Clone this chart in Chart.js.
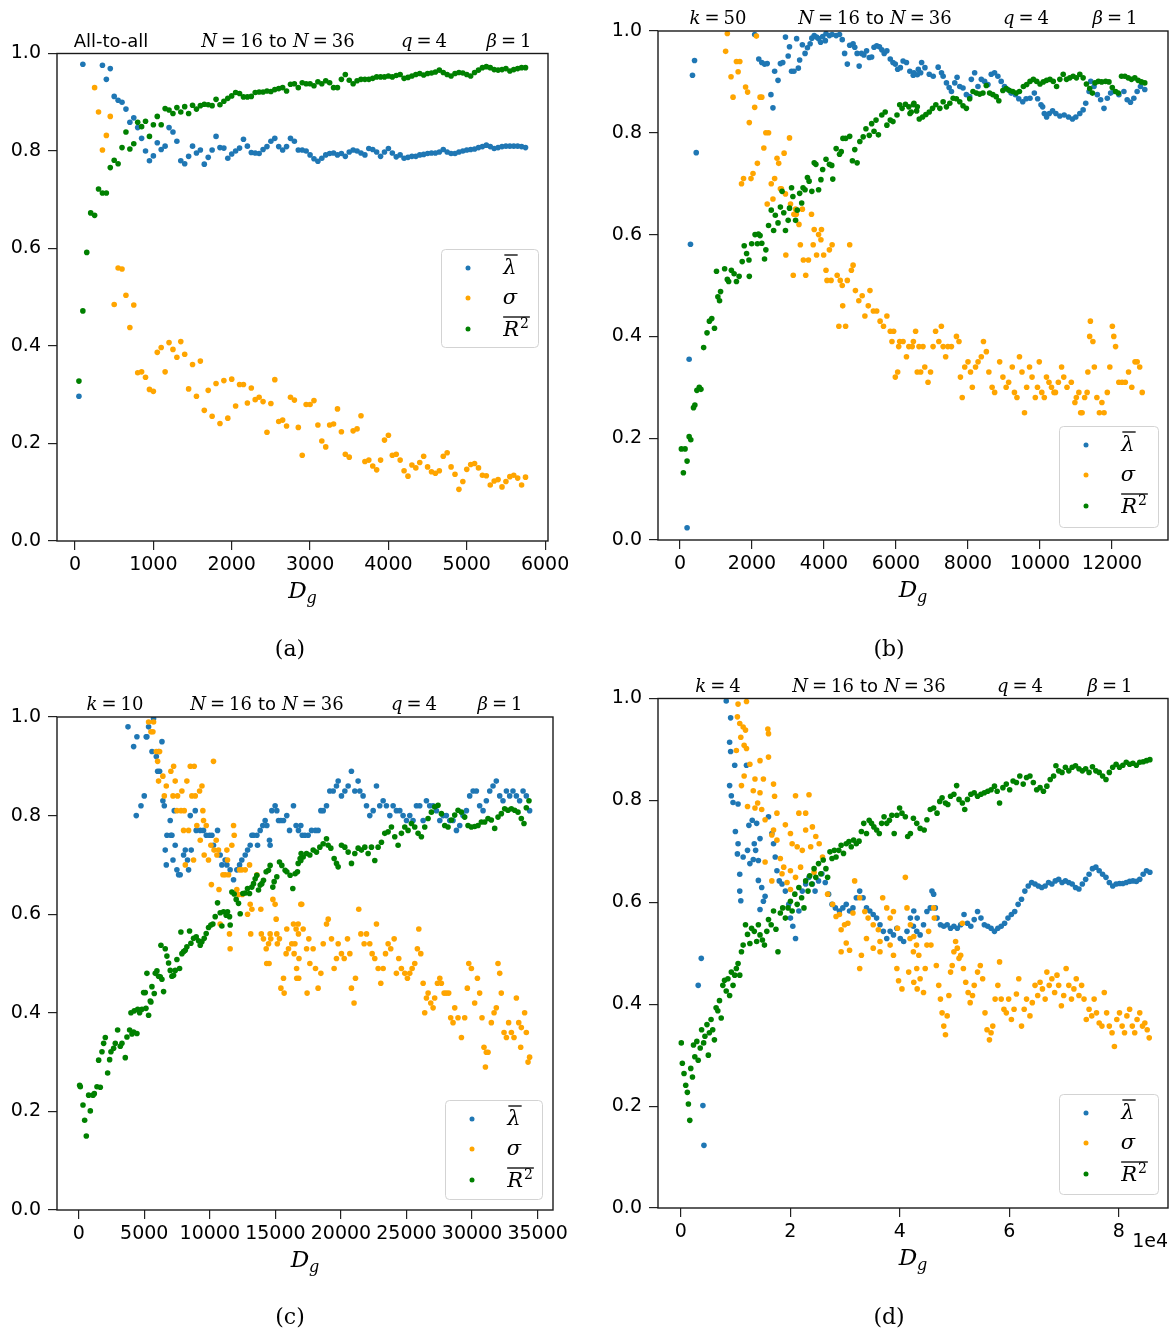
<!DOCTYPE html>
<html><head><meta charset="utf-8">
<script src="https://cdn.jsdelivr.net/npm/chart.js@4.4.1/dist/chart.umd.min.js"></script>
<style>
html,body{margin:0;padding:0;background:#fff;}
#wrap{position:relative;width:1176px;height:1333px;background:#fff;}
canvas{position:absolute;}
</style></head><body><div id="wrap">
<canvas id="cA" width="588" height="666" style="left:0;top:0;width:588px;height:666px"></canvas>
<canvas id="cB" width="588" height="666" style="left:588px;top:0;width:588px;height:666px"></canvas>
<canvas id="cC" width="588" height="667" style="left:0;top:666px;width:588px;height:667px"></canvas>
<canvas id="cD" width="588" height="667" style="left:588px;top:666px;width:588px;height:667px"></canvas>
</div>
<script>
// ---------------- DATA ----------------
const yTicks = [0, 0.2, 0.4, 0.6, 0.8, 1.0];
const xTicksA = [0,1000,2000,3000,4000,5000,6000];
const xTicksB = [0,2000,4000,6000,8000,10000,12000];
const xTicksC = [0,5000,10000,15000,20000,25000,30000,35000];
const xTicksD = [0,20000,40000,60000,80000];
const seriesNames = ['lambda','sigma','R2'];

// (a) All-to-all
const xA = [50,100,150,200,250,300,350,400,450,500,550,600,650,700,750,800,850,900,950,1000,1050,1100,1150,1200,1250,1300,1350,1400,1450,1500,1550,1600,1650,1700,1750,1800,1850,1900,1950,2000,2050,2100,2150,2200,2250,2300,2350,2400,2450,2500,2550,2600,2650,2700,2750,2800,2850,2900,2950,3000,3050,3100,3150,3200,3250,3300,3350,3400,3450,3500,3550,3600,3650,3700,3750,3800,3850,3900,3950,4000,4050,4100,4150,4200,4250,4300,4350,4400,4450,4500,4550,4600,4650,4700,4750,4800,4850,4900,4950,5000,5050,5100,5150,5200,5250,5300,5350,5400,5450,5500,5550,5600,5650,5700,5750];
const lamA = [.297,.978,null,null,null,null,.976,.947,.969,.912,
.904,.900,.886,.859,.868,.848,.826,.800,.780,.790,
.817,.803,.810,.848,.839,.820,.780,.774,.789,.810,
.796,.802,.773,.787,.802,.830,.807,.806,.785,.794,
.800,.806,.824,.810,.797,.796,.795,.803,.809,.820,
.826,.809,.802,.809,.826,.820,.802,.802,.800,.792,
.784,.779,.785,.792,.795,.796,.792,.795,.789,.798,
.802,.800,.796,.792,.805,.803,.798,.789,.798,.805,
.796,.788,.792,.785,.787,.789,.789,.792,.793,.795,
.796,.796,.798,.803,.798,.795,.795,.798,.800,.802,
.803,.804,.807,.809,.812,.809,.805,.807,.809,.810,
.810,.810,.810,.809,.807];
const sigA = [null,null,null,null,.930,.880,.802,.832,.871,.485,
.560,.558,.504,.438,.484,.345,.347,.336,.311,.307,
.387,.397,.347,.407,.393,.377,.409,.383,.312,.362,
.297,.369,.268,.309,.256,.323,.241,.329,.252,.332,
.277,.321,.321,.283,.314,.290,.295,.286,.223,.282,
.331,.245,.248,.236,.295,.289,.233,.176,.280,.280,
.288,.238,.205,.193,.238,.240,.271,.224,.178,.172,
.226,.230,.257,.163,.166,.154,.146,.166,.207,.217,
.176,.178,.166,.144,.133,.156,.150,.161,.174,.152,
.142,.139,.144,.174,.181,.152,.137,.106,.122,.147,
.157,.159,.150,.135,.134,.115,.123,.126,.111,.122,
.132,.135,.129,.115,.131];
const r2A = [.328,.472,.592,.673,.668,.722,.714,.714,.766,.781,
.774,.807,.839,.804,.815,.859,.850,.861,.830,.854,
.871,.854,.887,.884,.877,.889,.880,.891,.877,.894,
.886,.893,.896,.895,.893,.906,.895,.902,.908,.913,
.920,.918,.911,.911,.912,.920,.921,.921,.923,.922,
.926,.928,.930,.923,.937,.938,.930,.940,.938,.938,
.934,.942,.938,.944,.940,.930,.930,.947,.957,.945,
.938,.944,.947,.947,.947,.949,.952,.952,.952,.954,
.952,.955,.957,.949,.951,.954,.957,.959,.956,.959,
.960,.962,.966,.961,.957,.954,.959,.961,.960,.957,
.954,.961,.966,.971,.973,.971,.967,.966,.967,.969,
.964,.967,.969,.971,.971];

// (b) k = 50   [D_g, value]
const lamB = [[197,.024],[254,.355],[291,.581],[347,.913],[404,.942],[451,.761],[2075,.993],[2188,.945],[2272,.938],[2348,.935],[2423,.936],[2526,.875],[2582,.849],[2629,.921],[2723,.903],[2789,.936],[2855,.938],[2930,.988],[3005,.951],[3042,.969],[3099,.921],[3164,.921],[3240,.985],[3287,.927],[3324,.943],[3399,.973],[3474,.956],[3540,.967],[3615,.975],[3662,.986],[3728,.991],[3794,.988],[3850,.985],[3906,.978],[3963,.989],[4038,.981],[4056,.995],[4150,.991],[4226,.993],[4338,.991],[4432,.993],[4507,.983],[4573,.956],[4648,.935],[4714,.972],[4808,.975],[4855,.968],[4920,.956],[4977,.931],[5042,.956],[5108,.953],[5183,.961],[5258,.948],[5324,.949],[5390,.968],[5465,.971],[5540,.969],[5606,.963],[5672,.956],[5747,.961],[5841,.945],[5916,.938],[5981,.935],[6047,.925],[6122,.928],[6197,.941],[6291,.938],[6385,.921],[6479,.913],[6592,.914],[6686,.918],[6500,.918],[6620,.925],[6712,.938],[6804,.928],[6924,.915],[7034,.911],[7172,.929],[7264,.918],[7310,.911],[7402,.898],[7476,.889],[7541,.881],[7633,.898],[7697,.909],[7771,.891],[7862,.888],[7955,.875],[8047,.871],[8093,.905],[8185,.918],[8277,.891],[8370,.905],[8462,.901],[8554,.895],[8646,.915],[8738,.918],[8830,.911],[8922,.901],[9014,.891],[9106,.885],[9199,.878],[9318,.875],[9410,.867],[9521,.861],[9614,.867],[9723,.868],[9843,.878],[9935,.867],[10028,.855],[10074,.851],[10120,.838],[10184,.831],[10258,.838],[10350,.843],[10442,.838],[10552,.833],[10672,.835],[10792,.831],[10903,.827],[10995,.831],[11106,.838],[11198,.845],[11271,.858],[11364,.881],[11410,.901],[11501,.891],[11593,.875],[11685,.865],[11778,.848],[11870,.868],[11962,.878],[12054,.881],[12193,.875],[12331,.881],[12422,.865],[12514,.860],[12607,.868],[12699,.881],[12791,.891],[12911,.885]];
const sigB = [[1268,.96],[1315,.995],[1418,.91],[1474,.87],[1568,.94],[1615,.92],[1662,.94],[1709,.70],[1765,.71],[1822,.89],[1878,.88],[1925,.82],[1972,.71],[2028,.72],[2075,.85],[2122,.99],[2150,.74],[2225,.87],[2272,.87],[2329,.77],[2385,.80],[2423,.66],[2460,.80],[2535,.70],[2582,.67],[2629,.71],[2695,.75],[2742,.74],[2789,.69],[2817,.69],[2892,.76],[2930,.68],[2940,.56],[3042,.79],[3070,.66],[3146,.52],[3164,.64],[3211,.65],[3230,.64],[3305,.62],[3343,.58],[3399,.65],[3427,.55],[3493,.52],[3568,.55],[3653,.64],[3700,.58],[3728,.61],[3794,.56],[3850,.60],[3915,.59],[3930,.61],[3991,.56],[4056,.53],[4084,.51],[4150,.57],[4197,.51],[4226,.58],[4366,.52],[4413,.42],[4451,.51],[4507,.50],[4520,.46],[4601,.42],[4648,.51],[4714,.58],[4761,.53],[4808,.54],[4873,.49],[4967,.47],[5061,.48],[5136,.44],[5230,.46],[5277,.49],[5371,.45],[5465,.45],[5559,.43],[5653,.42],[5747,.44],[5841,.41],[5888,.39],[5935,.41],[5981,.32],[6047,.33],[6075,.38],[6103,.39],[6197,.39],[6291,.36],[6357,.38],[6451,.38],[6483,.39],[6545,.41],[6590,.33],[6639,.38],[6686,.33],[6750,.38],[6800,.34],[6890,.31],[6960,.33],[7030,.38],[7100,.41],[7190,.39],[7260,.42],[7310,.38],[7380,.36],[7440,.38],[7540,.38],[7680,.40],[7750,.39],[7790,.32],[7840,.28],[7910,.34],[8000,.35],[8070,.33],[8120,.30],[8210,.34],[8280,.35],[8370,.36],[8430,.39],[8510,.37],[8580,.33],[8670,.30],[8740,.29],[8880,.35],[8970,.32],[9060,.30],[9130,.31],[9230,.34],[9290,.29],[9360,.28],[9430,.36],[9500,.33],[9570,.25],[9630,.30],[9710,.34],[9780,.32],[9870,.28],[9930,.30],[9980,.35],[10050,.29],[10120,.28],[10180,.32],[10250,.31],[10320,.30],[10390,.29],[10430,.29],[10510,.31],[10600,.34],[10660,.32],[10750,.30],[10870,.31],[10970,.27],[11010,.28],[11080,.29],[11130,.25],[11170,.25],[11240,.28],[11310,.29],[11330,.33],[11380,.40],[11400,.43],[11470,.39],[11510,.34],[11580,.28],[11650,.25],[11720,.27],[11780,.25],[11870,.29],[11940,.34],[12010,.42],[12050,.40],[12100,.38],[12190,.31],[12280,.31],[12370,.31],[12460,.33],[12550,.30],[12640,.35],[12700,.35],[12770,.34],[12840,.29]];
const r2B = [[38,.179],[94,.132],[141,.179],[197,.155],[254,.203],[300,.197],[375,.260],[413,.265],[469,.294],[535,.300],[582,.296],[657,.378],[751,.407],[817,.430],[883,.435],[958,.416],[1014,.528],[1052,.478],[1099,.470],[1127,.488],[1240,.533],[1315,.512],[1352,.508],[1427,.530],[1503,.523],[1568,.508],[1643,.518],[1728,.547],[1784,.578],[1850,.563],[1916,.550],[1925,.518],[1991,.582],[2085,.600],[2150,.582],[2178,.601],[2225,.598],[2272,.583],[2348,.552],[2385,.570],[2460,.618],[2535,.648],[2601,.608],[2648,.638],[2723,.623],[2789,.654],[2836,.685],[2883,.643],[2930,.608],[3005,.628],[3042,.652],[3099,.692],[3136,.675],[3211,.628],[3258,.648],[3324,.681],[3380,.662],[3418,.692],[3474,.688],[3540,.712],[3587,.705],[3662,.685],[3728,.741],[3775,.738],[3850,.688],[3915,.708],[3963,.728],[4056,.748],[4150,.738],[4216,.736],[4244,.709],[4338,.769],[4432,.758],[4479,.763],[4526,.789],[4601,.789],[4714,.793],[4789,.745],[4855,.767],[4920,.741],[4995,.783],[5089,.792],[5165,.808],[5258,.795],[5324,.818],[5390,.803],[5446,.825],[5512,.796],[5606,.835],[5700,.841],[5747,.815],[5841,.825],[5916,.822],[6028,.835],[6103,.855],[6169,.848],[6263,.856],[6357,.851],[6423,.841],[6498,.858],[6592,.851],[6389,.838],[6481,.855],[6573,.843],[6647,.827],[6739,.831],[6831,.836],[6924,.841],[7015,.848],[7107,.855],[7218,.848],[7310,.861],[7402,.851],[7495,.858],[7587,.868],[7679,.867],[7771,.861],[7862,.853],[7955,.848],[8047,.867],[8139,.881],[8231,.878],[8324,.876],[8416,.878],[8508,.893],[8600,.878],[8691,.875],[8784,.871],[8857,.863],[8968,.883],[9060,.887],[9152,.883],[9245,.881],[9337,.878],[9429,.881],[9539,.891],[9631,.895],[9723,.901],[9816,.905],[9908,.901],[10000,.896],[10092,.900],[10184,.903],[10277,.905],[10369,.901],[10461,.891],[10552,.905],[10645,.915],[10737,.905],[10829,.908],[10921,.911],[11013,.908],[11106,.915],[11198,.908],[11290,.896],[11382,.887],[11456,.878],[11529,.898],[11622,.901],[11714,.900],[11824,.901],[11916,.900],[12008,.889],[12100,.881],[12174,.878],[12265,.911],[12358,.911],[12450,.908],[12541,.905],[12634,.908],[12726,.903],[12817,.900],[12911,.898]];

// (c) k = 10
const lamC = [[3760,.98],[4190,.94],[4390,.80],[4440,.96],[4750,.82],[5000,.84],[5150,.96],[5200,.96],[5330,.98],[5590,.93],[5710,.997],[5920,.92],[6020,.89],[6090,.93],[6170,.89],[6350,.95],[6420,.83],[6530,.82],[6600,.73],[6680,.70],[6730,.76],[6980,.79],[7030,.76],[7110,.76],[7190,.71],[7290,.81],[7360,.74],[7490,.69],[7620,.68],[7740,.68],[8000,.72],[8130,.73],[8300,.71],[8380,.69],[8510,.80],[8580,.73],[8890,.81],[8960,.77],[9270,.77],[9520,.77],[9730,.76],[9980,.76],[10160,.76],[10280,.74],[10590,.77],[10790,.72],[10920,.70],[11170,.71],[11300,.70],[11550,.69],[11810,.67],[12060,.69],[12270,.70],[12440,.71],[12700,.72],[12880,.73],[13080,.74],[13210,.76],[13330,.76],[13590,.76],[13640,.74],[13840,.77],[14040,.78],[14220,.79],[14350,.78],[14550,.75],[14600,.74],[14730,.81],[14980,.82],[15110,.81],[15240,.79],[15420,.79],[15620,.79],[15870,.80],[16080,.77],[16380,.82],[16580,.78],[16760,.77],[16940,.78],[17050,.76],[17250,.76],[17500,.76],[17760,.77],[18060,.77],[18260,.77],[18470,.81],[18650,.81],[18900,.82],[19150,.85],[19410,.85],[19660,.86],[19790,.87],[20040,.84],[20300,.85],[20550,.86],[20800,.89],[21060,.85],[21310,.87],[21440,.85],[21690,.84],[21950,.82],[22200,.80],[22460,.81],[22710,.86],[22960,.82],[23220,.83],[23470,.82],[23730,.80],[23980,.82],[24230,.81],[24490,.81],[24740,.80],[25000,.79],[25250,.80],[25500,.79],[25760,.82],[26010,.82],[26270,.79],[26520,.83],[26770,.82],[27030,.82],[27280,.81],[27540,.79],[27790,.80],[28040,.80],[28300,.79],[28550,.79],[28810,.77],[29060,.78],[29310,.80],[29570,.81],[29820,.84],[30080,.85],[30330,.85],[30580,.82],[30840,.81],[31090,.83],[31350,.85],[31600,.86],[31850,.87],[32110,.84],[32360,.83],[32620,.85],[32870,.84],[33120,.85],[33380,.84],[33630,.83],[33890,.85],[34140,.84],[34390,.81]];
const sigC = [[5330,.99],[5510,.97],[5660,.97],[5710,.99],[5920,.93],[6020,.91],[6090,.87],[6170,.93],[6420,.88],[6530,.84],[6680,.86],[7030,.89],[7190,.84],[7240,.90],[7360,.87],[7490,.81],[7540,.84],[7800,.81],[7870,.85],[8000,.77],[8050,.81],[8130,.70],[8250,.87],[8380,.77],[8510,.90],[8630,.84],[8760,.71],[8810,.90],[8890,.84],[9010,.78],[9220,.85],[9270,.75],[9400,.86],[9470,.81],[9520,.79],[9570,.72],[9730,.78],[9900,.71],[10080,.74],[10120,.66],[10280,.91],[10320,.73],[10490,.75],[10540,.72],[10660,.73],[10700,.65],[10790,.58],[11000,.68],[11170,.68],[11300,.73],[11350,.71],[11430,.68],[11500,.56],[11550,.53],[11680,.74],[11810,.78],[11860,.76],[12060,.65],[12190,.64],[12270,.69],[12440,.69],[12480,.64],[12700,.69],[12880,.60],[13030,.70],[13080,.62],[13120,.56],[13210,.61],[13590,.68],[13890,.61],[13930,.56],[14090,.55],[14300,.53],[14340,.50],[14480,.54],[14520,.50],[14600,.56],[14650,.55],[14810,.63],[14980,.62],[15060,.59],[15110,.56],[15150,.54],[15310,.55],[15420,.45],[15620,.47],[15670,.44],[15820,.52],[15870,.57],[16000,.53],[16250,.54],[16380,.58],[16430,.52],[16490,.54],[16580,.57],[16620,.49],[16630,.47],[16740,.58],[16760,.56],[16780,.47],[16800,.51],[16940,.62],[17010,.62],[17120,.57],[17380,.53],[17420,.44],[17550,.55],[17630,.50],[17880,.53],[18060,.49],[18260,.45],[18470,.48],[18650,.54],[18900,.58],[19030,.59],[19280,.55],[19480,.49],[19660,.51],[19790,.54],[20040,.52],[20250,.51],[20500,.55],[20680,.52],[20800,.45],[21000,.42],[21110,.47],[21360,.61],[21520,.56],[21770,.54],[21950,.56],[22200,.54],[22380,.52],[22580,.51],[22710,.58],[22840,.49],[23040,.46],[23220,.49],[23400,.52],[23600,.54],[23800,.53],[24060,.55],[24230,.48],[24410,.51],[24610,.49],[24870,.48],[25070,.47],[25250,.48],[25430,.49],[25630,.50],[25830,.53],[25940,.57],[26090,.52],[26270,.46],[26390,.40],[26520,.43],[26650,.44],[26850,.42],[27030,.41],[27150,.43],[27360,.46],[27540,.47],[27660,.46],[27870,.44],[28040,.44],[28220,.44],[28370,.39],[28550,.38],[28680,.41],[28930,.39],[29190,.35],[29440,.39],[29640,.45],[29750,.50],[29950,.49],[30200,.42],[30410,.47],[30580,.44],[30760,.39],[30910,.33],[31020,.29],[31090,.32],[31220,.32],[31470,.38],[31680,.40],[31850,.41],[31980,.50],[32110,.48],[32230,.44],[32440,.36],[32620,.35],[32790,.38],[33000,.36],[33200,.35],[33380,.43],[33560,.38],[33710,.33],[33760,.37],[34010,.40],[34140,.36],[34270,.30],[34390,.31]];
const r2C = [[73,.253],[124,.250],[327,.213],[454,.182],[581,.150],[759,.233],[886,.201],[1089,.233],[1191,.236],[1394,.250],[1521,.304],[1648,.249],[1775,.321],[1902,.338],[2029,.350],[2207,.278],[2359,.305],[2461,.321],[2664,.328],[2791,.338],[2969,.365],[3172,.332],[3299,.338],[3553,.309],[3680,.351],[3883,.365],[3985,.400],[4061,.357],[4188,.361],[4239,.404],[4442,.358],[4500,.407],[4645,.400],[4823,.407],[4950,.441],[5077,.441],[5130,.409],[5204,.480],[5331,.395],[5458,.424],[5509,.422],[5585,.453],[5763,.439],[5839,.480],[5966,.485],[6093,.474],[6220,.473],[6271,.537],[6347,.468],[6474,.443],[6601,.530],[6728,.515],[6855,.501],[6982,.486],[7109,.474],[7236,.476],[7363,.486],[7490,.508],[7693,.490],[7795,.564],[7871,.520],[7998,.524],[8125,.527],[8252,.534],[8455,.566],[8557,.541],[8760,.551],[8963,.554],[9141,.546],[9268,.537],[9395,.544],[9573,.551],[9725,.561],[9903,.573],[10081,.578],[10233,.580],[10411,.595],[10589,.623],[10792,.603],[10919,.576],[11046,.605],[11249,.598],[11351,.605],[11503,.595],[11554,.578],[11681,.645],[11859,.641],[12011,.630],[12189,.622],[12316,.601],[12519,.642],[12697,.643],[12875,.652],[13027,.642],[13205,.655],[13332,.662],[13459,.672],[13586,.679],[13713,.649],[13840,.659],[13967,.662],[14094,.669],[14297,.686],[14475,.689],[14602,.699],[14805,.655],[14907,.666],[15110,.676],[15313,.706],[15491,.699],[15745,.689],[15872,.686],[16126,.679],[16329,.652],[16507,.682],[16685,.686],[16888,.713],[16964,.723],[16740,.703],[16943,.709],[17121,.716],[17375,.723],[17629,.720],[17883,.730],[18137,.726],[18391,.736],[18645,.743],[18899,.753],[19026,.740],[19229,.734],[19483,.713],[19661,.703],[19788,.696],[20042,.740],[20296,.736],[20550,.726],[20804,.703],[21058,.723],[21312,.734],[21566,.730],[21820,.736],[22074,.723],[22328,.736],[22582,.709],[22836,.736],[23090,.746],[23344,.764],[23598,.767],[23852,.777],[24106,.757],[24360,.740],[24614,.764],[24868,.777],[25122,.770],[25376,.784],[25630,.777],[25884,.764],[26138,.757],[26392,.777],[26646,.794],[26900,.807],[27154,.818],[27408,.821],[27662,.804],[27916,.780],[28170,.777],[28424,.791],[28678,.801],[28932,.811],[29186,.807],[29440,.797],[29694,.780],[29948,.777],[30202,.778],[30456,.780],[30710,.787],[30964,.787],[31218,.794],[31472,.791],[31726,.774],[31980,.797],[32234,.804],[32488,.814],[32742,.811],[32996,.814],[33250,.811],[33504,.807],[33758,.794],[33961,.784],[34139,.816],[34342,.830]];

// (d) k = 4
const lamD = [[3180,.437],[3740,.490],[4040,.201],[4230,.123],[8300,.995],[8920,.914],[8920,.829],[9100,.962],[9100,.896],[9230,.809],[9540,.796],[9850,.869],[9970,.739],[10340,.695],[10460,.793],[10460,.715],[10770,.655],[10770,.622],[10960,.603],[11390,.689],[12000,.869],[12190,.702],[12440,.751],[12620,.676],[13050,.761],[13240,.684],[13420,.715],[13670,.702],[13860,.755],[14170,.682],[14170,.643],[14470,.725],[14470,.586],[14780,.629],[15090,.602],[15400,.612],[16020,.768],[16630,.735],[16940,.715],[17250,.689],[17560,.662],[17990,.642],[18490,.636],[19100,.622],[19720,.596],[20030,.569],[20460,.553],[20960,.529],[21570,.583],[22190,.622],[22810,.636],[23420,.649],[24040,.636],[24530,.622],[25160,.642],[25770,.656],[26390,.639],[27000,.616],[27620,.596],[28240,.589],[28980,.583],[29600,.589],[30220,.596],[30830,.583],[31450,.589],[32060,.609],[32680,.622],[33300,.609],[33920,.589],[34530,.583],[35150,.576],[35770,.569],[36390,.556],[37000,.543],[37620,.529],[38240,.543],[38850,.536],[39470,.549],[40090,.529],[40710,.523],[41320,.543],[41940,.569],[42560,.583],[43180,.569],[42490,.553],[43100,.543],[43720,.536],[44340,.556],[44960,.582],[45570,.589],[45880,.622],[46190,.616],[46500,.589],[46810,.569],[47430,.556],[48040,.553],[48660,.556],[49280,.549],[49890,.553],[50510,.549],[51130,.556],[51740,.576],[52360,.559],[52980,.553],[53600,.566],[54210,.582],[54830,.569],[55450,.556],[56070,.553],[56680,.549],[57300,.543],[57920,.549],[58530,.553],[59150,.559],[59770,.569],[60390,.576],[61000,.582],[61620,.596],[62240,.606],[62850,.622],[63470,.632],[64090,.639],[64710,.636],[65320,.632],[65940,.629],[66560,.632],[67180,.639],[67790,.636],[68410,.642],[69030,.645],[69650,.639],[70260,.642],[70880,.639],[71500,.636],[72110,.629],[72730,.626],[73350,.636],[73960,.645],[74580,.655],[75200,.666],[75820,.669],[76430,.662],[77050,.655],[77670,.649],[78280,.639],[78900,.632],[79520,.636],[80140,.637],[80750,.637],[81370,.639],[81990,.641],[82600,.642],[83220,.641],[83840,.645],[84460,.655],[85070,.662],[85690,.659]];
const sigD = [[10150,.898],[10340,.964],[10460,.989],[10770,.951],[10960,.924],[11080,.829],[11390,.944],[11570,.908],[11570,.848],[11820,.938],[12000,.994],[12000,.902],[12190,.788],[12620,.871],[13240,.819],[13550,.842],[13550,.785],[14040,.795],[14470,.878],[14470,.815],[14780,.782],[15090,.842],[15400,.762],[15400,.679],[15900,.940],[16020,.931],[16020,.885],[16630,.732],[16630,.642],[16940,.832],[16940,.742],[17130,.808],[17560,.775],[17560,.722],[18180,.686],[18490,.656],[18800,.669],[19100,.752],[19410,.639],[20030,.735],[20030,.662],[20030,.625],[20340,.715],[20960,.809],[20960,.649],[21260,.709],[21570,.775],[21880,.669],[22190,.702],[22810,.775],[22810,.742],[23420,.811],[23730,.709],[24040,.748],[24350,.659],[24660,.729],[25280,.715],[25890,.689],[26820,.616],[27740,.596],[28360,.572],[28980,.576],[29290,.546],[29290,.503],[29910,.556],[30220,.520],[30520,.559],[30830,.506],[31450,.579],[31760,.642],[32680,.609],[32680,.470],[32990,.496],[33610,.582],[33920,.529],[34220,.569],[35150,.556],[35150,.510],[36080,.546],[36390,.523],[36390,.503],[36880,.609],[37620,.589],[38240,.569],[38240,.516],[38850,.582],[38850,.496],[39470,.470],[39590,.549],[39780,.446],[40400,.430],[41020,.649],[41320,.589],[41630,.463],[41940,.556],[42560,.533],[42560,.443],[43060,.516],[43180,.430],[43480,.496],[41870,.529],[42490,.503],[43100,.470],[43720,.450],[44340,.423],[44650,.470],[44960,.516],[45270,.543],[45700,.516],[46190,.589],[46310,.569],[46680,.476],[47120,.437],[47430,.410],[47730,.383],[48040,.357],[48350,.340],[48660,.377],[48970,.417],[49280,.463],[49580,.476],[49890,.503],[50200,.523],[50510,.510],[50820,.490],[51130,.496],[51440,.559],[51620,.470],[52050,.443],[52490,.423],[52860,.403],[53290,.417],[53600,.437],[54210,.463],[54710,.476],[55140,.450],[55570,.383],[55940,.350],[56380,.330],[56680,.344],[56990,.357],[57420,.410],[57920,.437],[58230,.483],[58530,.410],[59030,.390],[59460,.383],[59890,.410],[60390,.370],[60880,.390],[61310,.420],[61740,.450],[62240,.357],[62730,.390],[63160,.410],[63780,.377],[64210,.403],[64710,.437],[65200,.417],[65630,.443],[66060,.430],[66560,.410],[66870,.463],[67300,.437],[67790,.450],[68290,.423],[68720,.457],[69030,.437],[69520,.397],[69950,.417],[70390,.470],[70880,.437],[71370,.410],[71810,.430],[72240,.450],[72730,.417],[73220,.437],[73660,.410],[74070,.370],[74580,.390],[75070,.377],[75510,.410],[75940,.383],[76430,.363],[76930,.357],[77360,.423],[77790,.383],[78280,.357],[78780,.344],[79210,.317],[79650,.370],[80140,.383],[80620,.357],[81060,.344],[81490,.377],[81990,.390],[82480,.357],[82920,.344],[83350,.370],[83840,.383],[84340,.357],[84770,.363],[85200,.350],[85570,.334]];
const r2D = [[90,.324],[280,.284],[590,.264],[900,.241],[1200,.227],[1390,.204],[1640,.172],[1820,.274],[2130,.257],[2320,.320],[2560,.297],[2930,.327],[3180,.290],[3550,.314],[3800,.350],[4170,.324],[4410,.337],[4780,.360],[5030,.300],[5220,.344],[5530,.370],[5830,.350],[6140,.330],[6450,.393],[6760,.387],[7070,.407],[7380,.373],[7680,.437],[7990,.447],[8300,.426],[8610,.450],[8920,.417],[9230,.463],[9540,.437],[9850,.457],[10150,.470],[10460,.480],[10770,.457],[11080,.503],[11390,.516],[11820,.556],[12190,.537],[12620,.519],[12930,.549],[13420,.543],[13860,.523],[14170,.556],[14470,.536],[14910,.526],[15280,.516],[15710,.543],[16020,.566],[16510,.556],[16940,.583],[17380,.547],[17750,.503],[18180,.579],[18610,.589],[19100,.569],[19600,.589],[20030,.602],[20340,.583],[20830,.616],[21260,.596],[21570,.629],[22070,.609],[22500,.589],[22810,.642],[23240,.622],[23550,.652],[23920,.636],[24350,.666],[24660,.649],[25160,.676],[25580,.656],[26020,.683],[26510,.666],[26820,.649],[27250,.699],[27620,.686],[28050,.702],[28360,.689],[28860,.702],[29290,.712],[29720,.696],[30220,.715],[30710,.719],[31140,.709],[31570,.722],[32060,.715],[32560,.720],[32990,.739],[33420,.755],[33920,.735],[34410,.761],[34840,.755],[35270,.748],[35770,.742],[36260,.735],[36690,.755],[37130,.768],[37620,.755],[38110,.761],[38550,.771],[38980,.735],[39470,.771],[39970,.785],[40400,.775],[41020,.768],[41450,.729],[41940,.735],[42490,.765],[43100,.755],[43720,.745],[44460,.742],[44960,.762],[45570,.782],[46190,.785],[46810,.775],[47300,.798],[47730,.805],[48350,.795],[48780,.792],[49280,.808],[49890,.812],[50390,.829],[50820,.802],[51440,.795],[51870,.782],[52360,.802],[52980,.812],[53600,.815],[54210,.808],[54830,.812],[55450,.815],[56070,.818],[56680,.821],[57300,.828],[57790,.818],[58230,.795],[58840,.825],[59460,.832],[60080,.821],[60700,.838],[61310,.835],[61930,.848],[62550,.832],[63160,.845],[63780,.848],[64400,.835],[65010,.821],[65630,.825],[66250,.818],[66870,.828],[67480,.841],[68100,.848],[68530,.868],[69030,.858],[69640,.855],[70260,.865],[70880,.858],[71500,.865],[72110,.868],[72730,.862],[73350,.858],[73960,.862],[74580,.855],[75200,.866],[75820,.858],[76430,.855],[77050,.848],[77670,.841],[78280,.855],[78900,.865],[79520,.871],[80140,.865],[80750,.869],[81370,.875],[81990,.871],[82600,.873],[83220,.869],[83840,.875],[84460,.876],[85070,.878],[85690,.880]];

// ---------------- STYLE / LAYOUT ----------------
const COLORS = ['#1f77b4', '#ffa500', '#008000'];
const F_SANS = '18px "DejaVu Sans"';
const F_MI = 'italic 18px "DejaVu Serif"';
const F_MR = '18px "DejaVu Serif"';

function eqSegs(sym, val) { return [{t:sym,f:F_MI},{gap:4},{t:'=',f:F_MR},{gap:4},{t:val,f:F_MR}]; }
const NSEGS = [...eqSegs('N','16'), {gap:6}, {t:'to',f:F_SANS}, {gap:6}, ...eqSegs('N','36')];

function fromA(xs, ys) { const o = []; xs.forEach((x,i) => { if (ys[i] !== null) o.push({x:x, y:ys[i]}); }); return o; }
function fromP(p) { return p.map(d => ({x:d[0], y:d[1]})); }

const panels = {
  cA: { ox:0, oy:0, pad:{left:7, top:53.5, right:40, bottom:85}, xmin:-230, xmax:6037, xticks:xTicksA, xfmt:v=>String(v),
        data:[fromA(xA,lamA), fromA(xA,sigA), fromA(xA,r2A)],
        titleY:47, title:[{segs:[{t:'All-to-all',f:F_SANS}],cx:111},{segs:NSEGS,cx:278},{segs:eqSegs('q','4'),cx:424},{segs:eqSegs('β','1'),cx:509}],
        legend:{x:441,y:249,w:97,h:98}, caption:{t:'(a)',x:290,y:656} },
  cB: { ox:588, oy:0, pad:{left:20, top:31, right:8, bottom:86}, xmin:-611, xmax:13556, xticks:xTicksB, xfmt:v=>String(v),
        data:[fromP(lamB), fromP(sigB), fromP(r2B)],
        titleY:24, title:[{segs:eqSegs('k','50'),cx:718},{segs:NSEGS,cx:875},{segs:eqSegs('q','4'),cx:1026},{segs:eqSegs('β','1'),cx:1115}],
        legend:{x:1059,y:426,w:99,h:101}, caption:{t:'(b)',x:889,y:656} },
  cC: { ox:0, oy:666, pad:{left:7, top:51, right:35, bottom:83}, xmin:-1655, xmax:36174, xticks:xTicksC, xfmt:v=>String(v),
        data:[fromP(lamC), fromP(sigC), fromP(r2C)],
        titleY:710, title:[{segs:eqSegs('k','10'),cx:115},{segs:NSEGS,cx:267},{segs:eqSegs('q','4'),cx:414},{segs:eqSegs('β','1'),cx:500}],
        legend:{x:445,y:1100,w:97,h:99}, caption:{t:'(c)',x:290,y:1324} },
  cD: { ox:588, oy:666, pad:{left:20, top:32.5, right:8, bottom:85}, xmin:-4165, xmax:89000, xticks:xTicksD, xfmt:v=>String(v/10000),
        data:[fromP(lamD), fromP(sigD), fromP(r2D)],
        titleY:692, title:[{segs:eqSegs('k','4'),cx:718},{segs:NSEGS,cx:869},{segs:eqSegs('q','4'),cx:1020},{segs:eqSegs('β','1'),cx:1110}],
        legend:{x:1059,y:1094,w:99,h:100}, caption:{t:'(d)',x:889,y:1324}, offsetText:'1e4' }
};

function isGap(s) { return s.gap !== undefined; }
function segWidth(ctx, segs) { let w = 0; for (const s of segs) { if (isGap(s)) { w += s.gap; continue; } ctx.font = s.f; w += ctx.measureText(s.t).width; } return w; }
function drawSegs(ctx, segs, cx, by) {
  let x = cx - segWidth(ctx, segs) / 2;
  ctx.textAlign = 'left'; ctx.textBaseline = 'alphabetic';
  for (const s of segs) { if (isGap(s)) { x += s.gap; continue; } ctx.font = s.f; ctx.fillText(s.t, x, by + (s.dy || 0)); x += ctx.measureText(s.t).width; }
}
function hline(ctx, x1, x2, y) { ctx.beginPath(); ctx.moveTo(x1, y); ctx.lineTo(x2, y); ctx.lineWidth = 1.3; ctx.strokeStyle = '#000'; ctx.stroke(); }

const deco = {
  id: 'deco',
  afterDraw(chart) {
    const p = panels[chart.canvas.id];
    const ctx = chart.ctx, a = chart.chartArea;
    ctx.save();
    ctx.strokeStyle = '#1a1a1a'; ctx.lineWidth = 1.4;
    ctx.strokeRect(a.left, a.top, a.right - a.left, a.bottom - a.top);
    ctx.fillStyle = '#000';
    for (const t of p.title) drawSegs(ctx, t.segs, t.cx - p.ox, p.titleY - p.oy);
    const cx = (a.left + a.right) / 2;
    drawSegs(ctx, [{t:'D', f:'italic 23px "DejaVu Serif"'}, {t:'g', f:'italic 16px "DejaVu Serif"', dy:5}], cx, a.bottom + 57);
    ctx.font = '22px "DejaVu Serif"'; ctx.textAlign = 'center'; ctx.textBaseline = 'alphabetic';
    ctx.fillText(p.caption.t, p.caption.x - p.ox, p.caption.y - p.oy);
    if (p.offsetText) { ctx.font = '19px "DejaVu Sans"'; ctx.textAlign = 'right'; ctx.fillText(p.offsetText, a.right, a.bottom + 39); }
    const L = p.legend, lx = L.x - p.ox, ly = L.y - p.oy;
    ctx.beginPath(); ctx.roundRect(lx + 0.5, ly + 0.5, L.w, L.h, 4);
    ctx.fillStyle = 'rgba(255,255,255,0.8)'; ctx.fill();
    ctx.strokeStyle = '#d3d3d3'; ctx.lineWidth = 1; ctx.stroke();
    const rows = [19, 49, 80];
    rows.forEach((ry, i) => { ctx.beginPath(); ctx.arc(lx + 27, ly + ry, 2.5, 0, Math.PI * 2); ctx.fillStyle = COLORS[i]; ctx.fill(); });
    ctx.fillStyle = '#000'; ctx.textBaseline = 'alphabetic';
    const FL = 'italic 21px "DejaVu Serif"';
    ctx.font = FL; ctx.textAlign = 'center';
    let bx = lx + 69, by = ly + rows[0] + 6;
    ctx.fillText('λ', bx, by);
    let w = ctx.measureText('λ').width;
    hline(ctx, bx - w / 2 + 1, bx + w / 2 + 1, by - 19);
    ctx.fillText('σ', lx + 69, ly + rows[1] + 6);
    ctx.textAlign = 'left';
    ctx.font = FL; const wR = ctx.measureText('R').width;
    ctx.font = '14px "DejaVu Serif"'; const w2 = ctx.measureText('2').width;
    const tot = wR + 1 + w2; const sx = lx + 75 - tot / 2; by = ly + rows[2] + 7;
    ctx.font = FL; ctx.fillText('R', sx, by);
    ctx.font = '14px "DejaVu Serif"'; ctx.fillText('2', sx + wR + 1, by - 8);
    hline(ctx, sx, sx + tot + 1, by - 19);
    ctx.restore();
  }
};

function makeChart(id) {
  const p = panels[id];
  const mk = (i, order) => ({ data: p.data[i], backgroundColor: COLORS[i], borderWidth: 0, pointRadius: 2.8, pointHoverRadius: 2.8, clip: 0, order: order, label: seriesNames[i] });
  const tickFont = { size: 19, family: '"DejaVu Sans"' };
  const grid = { display: true, drawOnChartArea: false, drawTicks: true, tickLength: 9, color: '#222', lineWidth: 1.2 };
  new Chart(document.getElementById(id), {
    type: 'scatter',
    data: { datasets: [mk(0, 3), mk(1, 2), mk(2, 1)] },
    options: {
      responsive: false, animation: false, devicePixelRatio: 1,
      layout: { padding: p.pad, autoPadding: false },
      plugins: { legend: { display: false }, tooltip: { enabled: false }, title: { display: false } },
      scales: {
        x: { type: 'linear', min: p.xmin, max: p.xmax,
             afterFit: s => { s.height = 40; },
             afterBuildTicks: s => { s.ticks = p.xticks.map(v => ({ value: v })); },
             ticks: { callback: p.xfmt, font: tickFont, color: '#000', padding: 4, maxRotation: 0, autoSkip: false },
             grid: grid, border: { display: false } },
        y: { type: 'linear', min: 0, max: 1,
             afterFit: s => { s.width = 50; },
             afterBuildTicks: s => { s.ticks = yTicks.map(v => ({ value: v })); },
             ticks: { callback: v => v.toFixed(1), font: tickFont, color: '#000', padding: 7, autoSkip: false },
             grid: grid, border: { display: false } }
      }
    },
    plugins: [deco]
  });
}
['cA', 'cB', 'cC', 'cD'].forEach(makeChart);
</script>
</body></html>
